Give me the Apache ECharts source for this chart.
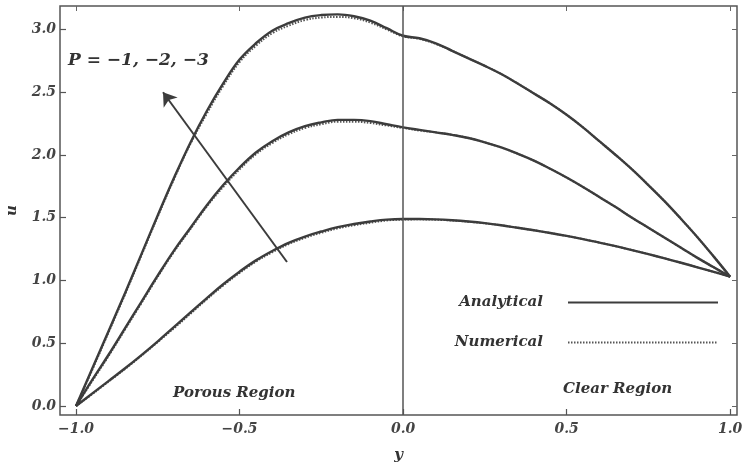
<!DOCTYPE html>
<html>
<head>
<meta charset="utf-8">
<script src="https://cdn.jsdelivr.net/npm/echarts@6/dist/echarts.min.js"></script>
<style>html,body{margin:0;padding:0;background:#fff}#c{width:742px;height:472px}</style>
</head>
<body>
<div id="c"></div>
<script>
// ---- data ----
var xs = [-1, -0.95, -0.9, -0.85, -0.8, -0.75, -0.7, -0.65, -0.6, -0.55, -0.5, -0.45, -0.4, -0.35, -0.3, -0.25, -0.2, -0.15, -0.1, -0.05,
          0, 0.05, 0.1, 0.15, 0.2, 0.25, 0.3, 0.35, 0.4, 0.45, 0.5, 0.55, 0.6, 0.65, 0.7, 0.75, 0.8, 0.85, 0.9, 0.95, 1];

var analyticalP3 = [0, 0.30, 0.60, 0.90, 1.21, 1.52, 1.82, 2.10, 2.35, 2.57, 2.76, 2.89, 2.99, 3.05, 3.095, 3.115, 3.12, 3.105, 3.07, 3.01,
                    2.95, 2.93, 2.89, 2.83, 2.77, 2.71, 2.645, 2.57, 2.49, 2.41, 2.32, 2.22, 2.11, 2.00, 1.885, 1.76, 1.63, 1.49, 1.345, 1.19, 1.03];
var numericalP3  = [0, 0.29, 0.59, 0.89, 1.20, 1.51, 1.81, 2.09, 2.33, 2.55, 2.74, 2.87, 2.97, 3.03, 3.075, 3.095, 3.10, 3.09, 3.055, 3.00,
                    2.945, 2.925, 2.885, 2.83, 2.77, 2.71, 2.645, 2.57, 2.49, 2.41, 2.32, 2.22, 2.11, 2.00, 1.885, 1.76, 1.63, 1.49, 1.345, 1.19, 1.03];

var analyticalP2 = [0, 0.21, 0.41, 0.62, 0.83, 1.04, 1.24, 1.42, 1.60, 1.76, 1.90, 2.02, 2.11, 2.18, 2.23, 2.26, 2.28, 2.28, 2.27, 2.245,
                    2.22, 2.20, 2.18, 2.16, 2.135, 2.10, 2.06, 2.01, 1.955, 1.89, 1.82, 1.745, 1.665, 1.585, 1.50, 1.42, 1.34, 1.26, 1.18, 1.105, 1.03];
var numericalP2  = [0, 0.20, 0.40, 0.61, 0.82, 1.03, 1.23, 1.41, 1.59, 1.745, 1.885, 2.005, 2.095, 2.165, 2.215, 2.245, 2.265, 2.265, 2.255, 2.235,
                    2.215, 2.195, 2.18, 2.16, 2.135, 2.10, 2.06, 2.01, 1.955, 1.89, 1.82, 1.745, 1.665, 1.585, 1.50, 1.42, 1.34, 1.26, 1.18, 1.105, 1.03];

var analyticalP1 = [0, 0.10, 0.20, 0.30, 0.405, 0.515, 0.63, 0.745, 0.86, 0.97, 1.07, 1.16, 1.235, 1.30, 1.35, 1.39, 1.425, 1.45, 1.47, 1.485,
                    1.49, 1.49, 1.487, 1.48, 1.47, 1.457, 1.44, 1.42, 1.40, 1.378, 1.355, 1.33, 1.302, 1.273, 1.242, 1.21, 1.176, 1.141, 1.105, 1.068, 1.03];
var numericalP1  = [0, 0.095, 0.195, 0.295, 0.40, 0.51, 0.62, 0.735, 0.85, 0.96, 1.06, 1.15, 1.225, 1.29, 1.34, 1.38, 1.415, 1.44, 1.46, 1.478,
                    1.485, 1.487, 1.484, 1.478, 1.468, 1.455, 1.44, 1.42, 1.40, 1.378, 1.355, 1.33, 1.302, 1.273, 1.242, 1.21, 1.176, 1.141, 1.105, 1.068, 1.03];

var xTicks = [-1.0, -0.5, 0.0, 0.5, 1.0];
var yTicks = [0.0, 0.5, 1.0, 1.5, 2.0, 2.5, 3.0];
var arrowFrom = [-0.355, 1.147];
var arrowTo = [-0.734, 2.50];
var pLabel = 'P = \u22121, \u22122, \u22123';
var seriesNames = ['Analytical', 'Numerical'];

// ---- chart ----
function pairs(vals) { return xs.map(function (x, i) { return [x, vals[i]]; }); }
function fmt(v) { return Number(v).toFixed(1).replace('-', '\u2212'); }
var serif = '"DejaVu Serif", "Liberation Serif", serif';
var ink = '#3c3c3c';
var lblStyle = { fontFamily: serif, fontStyle: 'italic', fontWeight: 'bold', fontSize: 14, color: '#444' };

var XMIN = -1.049, XMAX = 1.021, YMIN = -0.072, YMAX = 3.187;

function mkAnalytical(vals) {
  return { type: 'line', name: seriesNames[0], data: pairs(vals), smooth: 0.4, symbol: 'none', showSymbol: false,
           lineStyle: { color: ink, width: 2.4 }, itemStyle: { color: ink }, z: 3 };
}
function mkNumerical(vals) {
  return { type: 'line', name: seriesNames[1], data: pairs(vals), smooth: 0.4, symbol: 'none', showSymbol: false,
           lineStyle: { color: '#555', width: 2, type: [1.5, 1.5] }, itemStyle: { color: '#555' }, z: 2 };
}

var chart = echarts.init(document.getElementById('c'), null, { renderer: 'canvas' });
var series = [
  mkNumerical(numericalP1), mkNumerical(numericalP2), mkNumerical(numericalP3),
  mkAnalytical(analyticalP1), mkAnalytical(analyticalP2), mkAnalytical(analyticalP3),
  { type: 'lines', coordinateSystem: 'cartesian2d', z: 4, silent: true,
    symbol: ['none', 'arrow'], symbolSize: [0, 13],
    lineStyle: { color: ink, width: 2, opacity: 1 },
    data: [{ coords: [arrowFrom, arrowTo] }] },
  { type: 'line', data: [], silent: true,
    markLine: { silent: true, symbol: 'none', label: { show: false },
      lineStyle: { color: '#555', width: 1.5, type: 'solid' },
      data: [{ xAxis: 0 }] } }
];

var noZero = { show: false, onZero: false };

chart.setOption({
  animation: false,
  backgroundColor: '#fff',
  grid: { left: 60, right: 5, top: 6, bottom: 57, show: true, borderColor: '#555', borderWidth: 1.5,
          outerBoundsMode: 'none', containLabel: false },
  legend: {
    data: seriesNames, orient: 'vertical', right: 18, top: 290, align: 'right',
    itemWidth: 150, itemHeight: 14, itemGap: 25,
    itemStyle: { opacity: 0 },
    textStyle: { fontFamily: serif, fontStyle: 'italic', fontWeight: 'bold', fontSize: 15, color: '#333', padding: [0, 20, 0, 0] }
  },
  xAxis: [{
    type: 'value', min: XMIN, max: XMAX, name: 'y', nameLocation: 'middle', nameGap: 33,
    nameTextStyle: { fontFamily: serif, fontStyle: 'italic', fontWeight: 'bold', fontSize: 15, color: '#333' },
    axisLine: noZero, splitLine: { show: false },
    axisTick: { show: true, inside: true, length: 6, customValues: xTicks, lineStyle: { color: '#555', width: 1.2 } },
    axisLabel: { customValues: xTicks, formatter: fmt, margin: 7, ...lblStyle }
  }, {
    type: 'value', min: XMIN, max: XMAX, position: 'top',
    axisLine: noZero, splitLine: { show: false }, axisLabel: { show: false },
    axisTick: { show: true, inside: true, length: 5, customValues: xTicks, lineStyle: { color: '#666', width: 1 } }
  }],
  yAxis: [{
    type: 'value', min: YMIN, max: YMAX, name: 'u', nameLocation: 'middle', nameGap: 40, nameRotate: 90,
    nameTextStyle: { fontFamily: serif, fontStyle: 'italic', fontWeight: 'bold', fontSize: 15, color: '#333' },
    axisLine: noZero, splitLine: { show: false },
    axisTick: { show: true, inside: true, length: 6, customValues: yTicks, lineStyle: { color: '#555', width: 1.2 } },
    axisLabel: { customValues: yTicks, formatter: fmt, margin: 4, ...lblStyle }
  }, {
    type: 'value', min: YMIN, max: YMAX, position: 'right',
    axisLine: noZero, splitLine: { show: false }, axisLabel: { show: false },
    axisTick: { show: true, inside: true, length: 5, customValues: yTicks, lineStyle: { color: '#666', width: 1 } }
  }],
  graphic: [
    { type: 'text', left: 68, top: 52, style: { text: pLabel, font: 'italic bold 17px ' + serif, fill: '#333' } },
    { type: 'text', left: 173, top: 386, style: { text: 'Porous Region', font: 'italic bold 15px ' + serif, fill: '#333' } },
    { type: 'text', left: 563, top: 382, style: { text: 'Clear Region', font: 'italic bold 15px ' + serif, fill: '#333' } }
  ],
  series: series
});
</script>
</body>
</html>
